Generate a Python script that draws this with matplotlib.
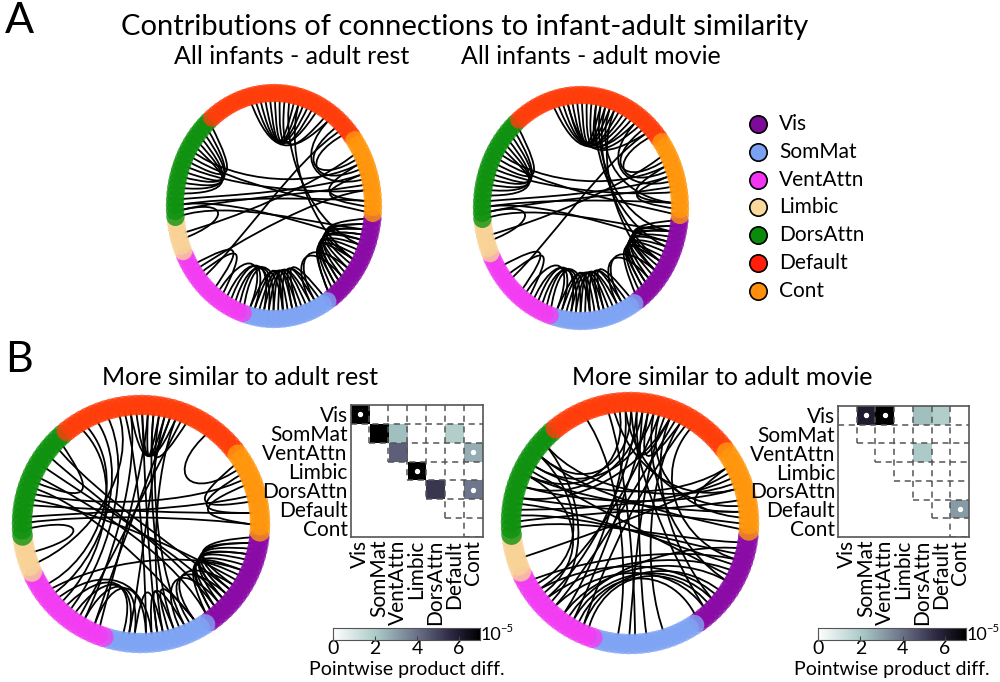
import numpy as np
import matplotlib
matplotlib.use('Agg')
import matplotlib.pyplot as plt
from matplotlib.path import Path
from matplotlib.patches import PathPatch
from matplotlib.colors import LinearSegmentedColormap

W, H = 1000, 682
FONT = ['Lato', 'DejaVu Sans']
plt.rcParams['font.family'] = FONT

networks = ['Vis', 'SomMat', 'VentAttn', 'Limbic', 'DorsAttn', 'Default', 'Cont']
node_counts = [17, 17, 16, 6, 19, 31, 14]
ring_colors = ['#8a0aa6', '#7fa4f4', '#f23cf2', '#f8d296', '#0f920f', '#ff3d0a', '#ff960c']
legend_colors = ['#7c0c98', '#7ba2f2', '#f235f0', '#fbd99c', '#0b8a0b', '#ff1f0a', '#ff8e0c']

# edges as (node, node), nodes numbered clockwise starting at the first Vis node
edges_a_rest = [
    (84, 97), (85, 95), (86, 94), (87, 92), (88, 93), (89, 96), (90, 99), (83, 100),
    (102, 109), (104, 111), (100, 113), (110, 117), (112, 118),
    (91, 5), (93, 8),
    (60, 71), (61, 73), (62, 70), (63, 72), (64, 69), (66, 74),
    (57, 114), (58, 117), (59, 112), (65, 115), (67, 119), (68, 110),
    (56, 2), (58, 4), (57, 52), (53, 108), (44, 103), (46, 115),
    (0, 9), (1, 12), (2, 10), (3, 14), (4, 11), (5, 15), (6, 13), (7, 16),
    (1, 8), (3, 16), (8, 14), (2, 13), (10, 19), (12, 20),
    (17, 23), (18, 26), (19, 24), (20, 29), (21, 27), (22, 30), (23, 31), (24, 28),
    (25, 33), (26, 32),
    (34, 28), (35, 30), (36, 26), (37, 32), (38, 29), (40, 33), (39, 45), (41, 47),
]
edges_a_movie = [
    (84, 97), (85, 95), (86, 94), (87, 92), (88, 93), (89, 96), (90, 99), (83, 100),
    (82, 98), (91, 101), (85, 103), (102, 109), (104, 111), (100, 113), (110, 117),
    (112, 118), (94, 117), (92, 2), (91, 5), (93, 8), (95, 10),
    (60, 71), (61, 73), (62, 70), (63, 72), (64, 69), (66, 74),
    (57, 114), (58, 117), (59, 112), (65, 115), (67, 119), (68, 110),
    (56, 2), (58, 4), (57, 52), (53, 108), (44, 103),
    (0, 9), (1, 12), (2, 10), (3, 14), (4, 11), (5, 15), (6, 13), (7, 16),
    (1, 8), (8, 14), (2, 13), (10, 19), (12, 20),
    (17, 23), (18, 26), (19, 24), (20, 29), (21, 27), (22, 30), (23, 31), (24, 28),
    (25, 33), (26, 32),
    (34, 28), (35, 30), (36, 26), (37, 32), (38, 29), (40, 33), (39, 45), (41, 47),
]
edges_b_rest = [
    (87, 93), (88, 92), (89, 91), (86, 94), (90, 96),
    (85, 27), (88, 25), (90, 22), (92, 30), (94, 24), (86, 38), (89, 35), (91, 20),
    (93, 36), (100, 108),
    (70, 14), (68, 12), (72, 10), (66, 16), (64, 18), (62, 8),
    (59, 113), (61, 116), (63, 110), (58, 118), (65, 73), (57, 53), (51, 84),
    (109, 116), (111, 118), (107, 114),
    (0, 10), (1, 13), (2, 11), (3, 15), (4, 12), (5, 16), (6, 14), (7, 15), (1, 9),
    (3, 12), (9, 18), (11, 19), (13, 21),
    (18, 23), (20, 26), (22, 25), (24, 29),
    (36, 27), (38, 29), (40, 31), (42, 30), (44, 26),
    (45, 80), (47, 78), (41, 82), (43, 77), (39, 95), (46, 6),
]
edges_b_movie = [
    (86, 66), (88, 70), (90, 64), (92, 68), (95, 62),
    (87, 40), (89, 44), (91, 38), (93, 46), (96, 42), (98, 36),
    (90, 25), (94, 28), (97, 22), (92, 8), (95, 12), (99, 4), (88, 14),
    (85, 112), (87, 115), (93, 117), (89, 95), (91, 97),
    (58, 114), (60, 110), (62, 118), (64, 112), (66, 116), (68, 108), (70, 119),
    (72, 111), (57, 1), (59, 3),
    (36, 10), (38, 12), (40, 8), (42, 14), (44, 6), (46, 11), (48, 4), (35, 13),
    (37, 16), (39, 2), (45, 66), (47, 70), (43, 72), (5, 61), (7, 67),
    (27, 84), (30, 80), (52, 109), (108, 116),
]

# matrix values (x 1e-5), upper triangle, row/col in network order
mat_rest_cells = [(0, 0, 7.5), (1, 1, 7.5), (1, 2, 2.3), (1, 5, 1.9), (2, 2, 4.4),
                  (2, 6, 2.7), (3, 3, 7.5), (4, 4, 5.3), (4, 6, 3.9)]
mat_rest_dots = [(0, 0), (2, 6), (3, 3), (4, 6)]
mat_movie_cells = [(0, 1, 6.0), (0, 2, 7.5), (0, 4, 2.3), (0, 5, 1.9), (2, 4, 2.0),
                   (5, 6, 3.1)]
mat_movie_dots = [(0, 1), (0, 2), (5, 6)]
cbar_ticks = [0, 2, 4, 6]

cmap = LinearSegmentedColormap.from_list(
    'pp', [(0, '#ffffff'), (0.3, '#a9c9c6'), (0.57, '#6c7289'),
           (0.8, '#2e2944'), (1, '#000000')])

total = sum(node_counts)
step = 360.0 / total
start = -5.0
node_net = np.repeat(np.arange(len(networks)), node_counts)
theta = np.deg2rad(start - (np.arange(total) + 0.5) * step)
offsets = np.concatenate([[0], np.cumsum(node_counts)])
net_mid = np.deg2rad(start - (offsets[:-1] + offsets[1:]) / 2.0 * step)

fig = plt.figure(figsize=(10, 6.82), dpi=100)


def px_axes(cx, cy, rx, ry, m):
    ax = fig.add_axes([(cx - rx * m) / W, 1 - (cy + ry * m) / H,
                       2 * rx * m / W, 2 * ry * m / H])
    ax.set_xlim(-m, m)
    ax.set_ylim(-m, m)
    ax.axis('off')
    return ax


def unit(a):
    return np.array([np.cos(a), np.sin(a)])


def ctrl(i, a, w):
    v = w * unit(theta[i]) + (1 - w) * unit(net_mid[node_net[i]])
    return a * v / np.linalg.norm(v)


def circle_plot(cx, cy, rx, ry, edges, size):
    ax = px_axes(cx, cy, rx, ry, 1.1)
    for i, j in edges:
        p0 = 0.97 * unit(theta[i])
        p3 = 0.97 * unit(theta[j])
        path = Path([p0, ctrl(i, 0.45, 0.5), ctrl(j, 0.45, 0.5), p3],
                    [Path.MOVETO, Path.CURVE4, Path.CURVE4, Path.CURVE4])
        ax.add_patch(PathPatch(path, fc='none', ec='black', lw=1.3, zorder=1))
    ax.scatter(np.cos(theta), np.sin(theta), s=size,
               c=[ring_colors[n] for n in node_net], alpha=0.8, lw=0, zorder=3)


circle_plot(274, 206, 99, 113, edges_a_rest, 175)
circle_plot(581, 208, 99, 113, edges_a_movie, 175)
circle_plot(141, 524, 119, 119, edges_b_rest, 220)
circle_plot(630, 523, 119, 121, edges_b_movie, 220)


def matrix_plot(x0, y0, x1, y1, cells, dots):
    ax = fig.add_axes([x0 / W, 1 - y1 / H, (x1 - x0) / W, (y1 - y0) / H])
    n = len(networks)
    vals = np.full((n, n), np.nan)
    for r, c, v in cells:
        vals[r, c] = v
    ax.imshow(np.ma.masked_invalid(vals), cmap=cmap, vmin=0, vmax=7,
              extent=(0, n, n, 0), interpolation='nearest', zorder=1)
    for r in range(n):
        ax.plot([r, n], [r + 1, r + 1], ls=(0, (4, 3)), color='#555555', lw=1.1, zorder=2)
        ax.plot([r, r], [0, r + 1], ls=(0, (4, 3)), color='#555555', lw=1.1, zorder=2)
    for r, c in dots:
        ax.scatter(c + 0.5, r + 0.5, s=8, color='white', zorder=3)
    ax.set_xlim(0, n)
    ax.set_ylim(n, 0)
    ax.set_xticks(np.arange(n) + 0.5)
    ax.set_yticks(np.arange(n) + 0.5)
    ax.set_xticklabels(networks, rotation=90, fontsize=15)
    ax.set_yticklabels(networks, fontsize=15)
    ax.tick_params(length=0, pad=2)
    for s in ax.spines.values():
        s.set_color('#555555')
        s.set_linewidth(1.2)


matrix_plot(350, 405, 483, 537, mat_rest_cells, mat_rest_dots)
matrix_plot(838, 406, 969, 537, mat_movie_cells, mat_movie_dots)


def colorbar_plot(x0, x1, y0, y1):
    ax = fig.add_axes([x0 / W, 1 - y1 / H, (x1 - x0) / W, (y1 - y0) / H])
    grad = np.linspace(0, 7, 256)[None, :]
    ax.imshow(grad, cmap=cmap, vmin=0, vmax=7, aspect='auto', extent=(0, 7, 0, 1))
    ax.set_xlim(0, 7)
    ax.set_yticks([])
    ax.set_xticks(cbar_ticks)
    ax.set_xticklabels([str(t) for t in cbar_ticks], fontsize=14)
    ax.tick_params(axis='x', direction='in', length=3, pad=0, color='#444444')
    for s in ax.spines.values():
        s.set_color('#555555')
        s.set_linewidth(0.8)
    fig.text((x1 + 1) / W, 1 - (y0 + 7) / H, '10', fontsize=13, va='center', ha='left')
    fig.text((x1 + 20) / W, 1 - (y0 + 1) / H, '\u22125', fontsize=8, va='center', ha='left')
    fig.text((x0 + x1) / 2 / W, 1 - 670 / H, 'Pointwise product diff.', fontsize=14,
             va='center', ha='center')


colorbar_plot(333, 480, 628, 640)
colorbar_plot(818, 966, 628, 640)

# legend
for k, name in enumerate(networks):
    y = 124 + k * 27.8
    fig.lines.append(plt.Line2D([758 / W], [1 - y / H], marker='o', ms=12.5,
                                mfc=legend_colors[k], mec='black', mew=1.2,
                                transform=fig.transFigure, figure=fig))
    fig.text(779 / W, 1 - y / H, name, fontsize=15, va='center', ha='left')

fig.text(0.005, 1 - 2 / H, 'A', fontsize=31, va='top', ha='left')
fig.text(0.005, 1 - 341 / H, 'B', fontsize=31, va='top', ha='left')
fig.text(465 / W, 1 - 27 / H, 'Contributions of connections to infant-adult similarity',
         fontsize=21, va='center', ha='center')
fig.text(292 / W, 1 - 57 / H, 'All infants - adult rest', fontsize=18,
         va='center', ha='center')
fig.text(591 / W, 1 - 57 / H, 'All infants - adult movie', fontsize=18,
         va='center', ha='center')
fig.text(240 / W, 1 - 378 / H, 'More similar to adult rest', fontsize=18,
         va='center', ha='center')
fig.text(722 / W, 1 - 378 / H, 'More similar to adult movie', fontsize=18,
         va='center', ha='center')

fig.savefig('out.png', dpi=100)
